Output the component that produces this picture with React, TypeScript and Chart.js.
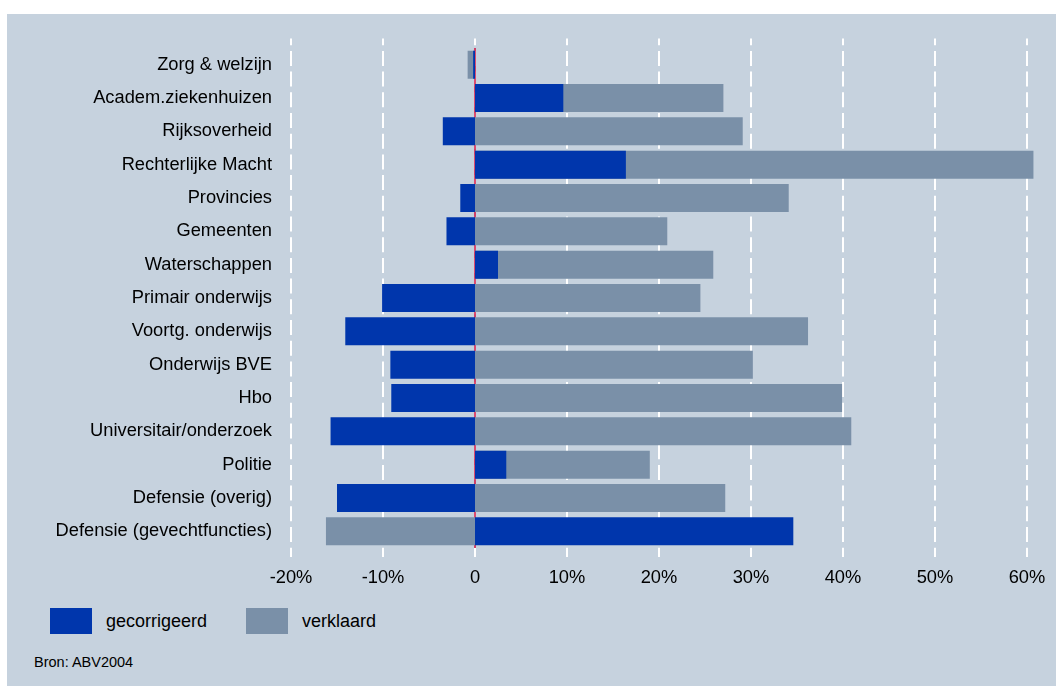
import React, { useEffect, useRef } from "react";
import { Chart, registerables } from "chart.js";

Chart.register(...registerables);

const categories = [
  "Zorg & welzijn",
  "Academ.ziekenhuizen",
  "Rijksoverheid",
  "Rechterlijke Macht",
  "Provincies",
  "Gemeenten",
  "Waterschappen",
  "Primair onderwijs",
  "Voortg. onderwijs",
  "Onderwijs BVE",
  "Hbo",
  "Universitair/onderzoek",
  "Politie",
  "Defensie (overig)",
  "Defensie (gevechtfuncties)",
];

const gecorrigeerd = [-0.2, 9.6, -3.5, 16.4, -1.6, -3.1, 2.5, -10.1, -14.1, -9.2, -9.1, -15.7, 3.4, -15.0, 34.6];
const verklaard = [-0.8, 27.0, 29.1, 60.7, 34.1, 20.9, 25.9, 24.5, 36.2, 30.2, 39.9, 40.9, 19.0, 27.2, -16.2];

const xTicks = [-20, -10, 0, 10, 20, 30, 40, 50, 60];

const seriesNames = ["gecorrigeerd", "verklaard"];
const seriesColors = ["#0036AC", "#7A90A8"];

const source = "Bron: ABV2004";

const FONT = "'Liberation Sans', Arial, Helvetica, sans-serif";
const BG = "#C6D2DE";

export default function App() {
  const canvasRef = useRef<HTMLCanvasElement | null>(null);

  useEffect(() => {
    if (!canvasRef.current) return;

    const gridPlugin = {
      id: "dashedGrid",
      beforeDatasetsDraw(chart: any) {
        const { ctx, chartArea, scales } = chart;
        const x = scales.x;
        ctx.save();
        ctx.strokeStyle = "#FFFFFF";
        ctx.lineWidth = 2;
        ctx.setLineDash([15, 5.7]);
        ctx.lineDashOffset = 8.3;
        for (const v of xTicks) {
          const px = Math.round(x.getPixelForValue(v));
          ctx.beginPath();
          ctx.moveTo(px, chartArea.top - 9.5);
          ctx.lineTo(px, chartArea.bottom + 9);
          ctx.stroke();
        }
        ctx.setLineDash([]);
        const zx = x.getPixelForValue(0);
        ctx.strokeStyle = "#D01040";
        ctx.lineWidth = 1.5;
        ctx.beginPath();
        ctx.moveTo(zx, chartArea.top);
        ctx.lineTo(zx, chartArea.bottom);
        ctx.stroke();
        ctx.restore();
      },
    };

    const chart = new Chart(canvasRef.current, {
      type: "bar",
      data: {
        labels: categories,
        datasets: [
          {
            label: seriesNames[0],
            data: gecorrigeerd,
            backgroundColor: seriesColors[0],
            grouped: false,
            barPercentage: 0.84,
            categoryPercentage: 1,
            borderWidth: 0,
          },
          {
            label: seriesNames[1],
            data: verklaard,
            backgroundColor: seriesColors[1],
            grouped: false,
            barPercentage: 0.84,
            categoryPercentage: 1,
            borderWidth: 0,
          },
        ],
      },
      options: {
        indexAxis: "y",
        animation: false,
        responsive: false,
        maintainAspectRatio: false,
        layout: { padding: { top: 34, right: 10.6, bottom: 0, left: 0 } },
        plugins: {
          legend: { display: false },
          tooltip: { enabled: false },
        },
        scales: {
          x: {
            type: "linear",
            min: -20,
            max: 62,
            grid: { display: false, drawTicks: false },
            border: { display: false },
            afterFit(s: any) {
              s.height = 46;
              s.paddingLeft = 0;
              s.paddingRight = 0;
            },
            ticks: {
              stepSize: 10,
              includeBounds: false,
              padding: 19,
              color: "#000000",
              font: { family: FONT, size: 18.3 },
              callback: (v: any) => (Number(v) === 0 ? "0" : `${v}%`),
            },
          },
          y: {
            grid: { display: false, drawTicks: false },
            border: { display: false },
            afterFit(s: any) {
              s.width = 284;
              s.paddingTop = 0;
              s.paddingBottom = 0;
            },
            ticks: {
              padding: 19,
              color: "#000000",
              font: { family: FONT, size: 18.3 },
            },
          },
        },
      },
      plugins: [gridPlugin],
    });

    return () => chart.destroy();
  }, []);

  return (
    <div
      style={{
        position: "absolute",
        left: 7,
        top: 14,
        width: 1049,
        height: 672,
        background: BG,
        fontFamily: FONT,
        color: "#000",
      }}
    >
      <canvas
        ref={canvasRef}
        width={1049}
        height={580}
        style={{ position: "absolute", left: 0, top: 0, width: 1049, height: 580 }}
      />
      {seriesNames.map((name, i) => (
        <div
          key={name}
          style={{
            position: "absolute",
            left: i === 0 ? 43 : 239,
            top: 594,
            height: 26,
            display: "flex",
            alignItems: "center",
            whiteSpace: "nowrap",
          }}
        >
          <span
            style={{
              display: "inline-block",
              width: 42,
              height: 26,
              background: seriesColors[i],
            }}
          />
          <span style={{ marginLeft: 14, fontSize: 18, lineHeight: "26px" }}>{name}</span>
        </div>
      ))}
      <div
        style={{
          position: "absolute",
          left: 27,
          top: 639,
          fontSize: 14.5,
          lineHeight: "18px",
          whiteSpace: "nowrap",
        }}
      >
        {source}
      </div>
    </div>
  );
}
